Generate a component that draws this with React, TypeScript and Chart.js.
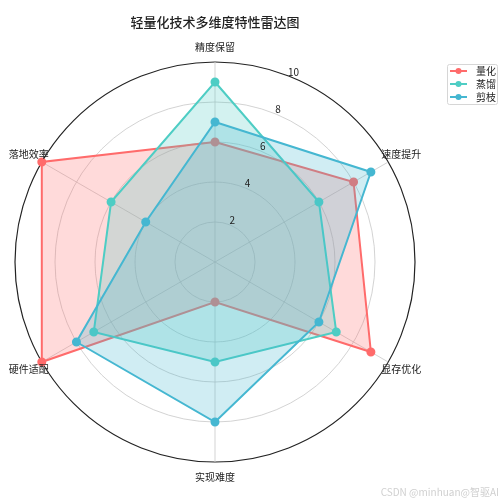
import { useEffect, useRef } from 'react';
import { Chart, registerables, Plugin } from 'chart.js';

Chart.register(...registerables);

const dimensions = ['精度保留', '速度提升', '显存优化', '实现难度', '硬件适配', '落地效率'];
const quantValues = [6, 8, 9, 2, 10, 10];
const distillValues = [9, 6, 7, 5, 7, 6];
const pruneValues = [7, 9, 6, 8, 8, 4];
const seriesNames = ['量化', '蒸馏', '剪枝'];
const radialTicks = [2, 4, 6, 8, 10];

const colors = ['#FF6B6B', '#4ECDC4', '#45B7D1'];
const fills = ['rgba(255,107,107,0.25)', 'rgba(78,205,196,0.25)', 'rgba(69,183,209,0.25)'];

const FONT = '"Noto Sans CJK SC", "DejaVu Sans", sans-serif';

// title, point labels, tick labels, legend and the watermark are drawn by hand
const decorations: Plugin<'radar'> = {
  id: 'decorations',
  afterDraw(chart) {
    const ctx = chart.ctx;
    const scale: any = chart.scales.r;
    const cx = scale.xCenter;
    const cy = scale.yCenter;
    ctx.save();
    ctx.textAlign = 'center';
    ctx.textBaseline = 'middle';

    ctx.fillStyle = '#222';
    ctx.font = `500 13px ${FONT}`;
    ctx.fillText('轻量化技术多维度特性雷达图', 215, 22);

    ctx.font = `10px ${FONT}`;
    ctx.fillStyle = '#222';
    dimensions.forEach((label, i) => {
      const p = scale.getPointPosition(i, scale.drawingArea + 15);
      ctx.fillText(label, p.x, p.y);
    });

    const a = (22.5 * Math.PI) / 180;
    radialTicks.forEach((t) => {
      const r = scale.getDistanceFromCenterForValue(t) + 5;
      ctx.fillText(String(t), cx + r * Math.sin(a), cy - r * Math.cos(a));
    });

    // legend
    ctx.strokeStyle = '#d6d6d6';
    ctx.lineWidth = 1;
    ctx.fillStyle = 'rgba(255,255,255,0.8)';
    ctx.beginPath();
    ctx.roundRect(447.5, 64.5, 50, 40, 2);
    ctx.fill();
    ctx.stroke();
    seriesNames.forEach((name, i) => {
      const y = 71 + i * 13;
      ctx.strokeStyle = colors[i];
      ctx.lineWidth = 2;
      ctx.beginPath();
      ctx.moveTo(450, y);
      ctx.lineTo(467, y);
      ctx.stroke();
      ctx.fillStyle = colors[i];
      ctx.beginPath();
      ctx.arc(458.5, y, 3, 0, Math.PI * 2);
      ctx.fill();
      ctx.fillStyle = '#222';
      ctx.textAlign = 'left';
      ctx.fillText(name, 476, y);
    });

    ctx.fillStyle = '#d0d0d0';
    ctx.textAlign = 'right';
    ctx.font = `10px ${FONT}`;
    ctx.fillText('CSDN @minhuan@智驱AI', 499, 492);
    ctx.restore();
  },
};

export default function App() {
  const canvasRef = useRef<HTMLCanvasElement>(null);
  const chartRef = useRef<Chart<'radar'> | null>(null);

  useEffect(() => {
    if (!canvasRef.current) return;
    if (chartRef.current) chartRef.current.destroy();

    const seriesValues = [quantValues, distillValues, pruneValues];

    chartRef.current = new Chart(canvasRef.current, {
      type: 'radar',
      data: {
        labels: dimensions,
        datasets: seriesValues.map((values, i) => ({
          label: seriesNames[i],
          data: values,
          borderColor: colors[i],
          backgroundColor: fills[i],
          pointBackgroundColor: colors[i],
          pointBorderColor: colors[i],
          pointRadius: 3.5,
          borderWidth: 2,
          fill: true,
          // later series on top, like the original
          order: seriesValues.length - i,
        })),
      },
      options: {
        responsive: false,
        animation: false,
        layout: { padding: { left: 15, top: 62, right: 85, bottom: 38 } },
        scales: {
          r: {
            min: 0,
            max: 10,
            ticks: { stepSize: 2, display: false },
            pointLabels: { display: false },
            grid: {
              circular: true,
              color: (c: any) => (c.tick && c.tick.value === 10 ? '#222' : '#c8c8c8'),
              lineWidth: (c: any) => (c.tick && c.tick.value === 10 ? 1.2 : 0.8),
            },
            angleLines: { color: '#c8c8c8', lineWidth: 0.8 },
          },
        },
        plugins: {
          legend: { display: false },
          title: { display: false },
          tooltip: { enabled: false },
          filler: { drawTime: 'beforeDatasetDraw' },
        },
      },
      plugins: [decorations],
    });

    return () => {
      if (chartRef.current) {
        chartRef.current.destroy();
        chartRef.current = null;
      }
    };
  }, []);

  return (
    <div style={{ position: 'fixed', left: 0, top: 0, width: 500, height: 500, background: '#fff' }}>
      <canvas ref={canvasRef} width={500} height={500} />
    </div>
  );
}
